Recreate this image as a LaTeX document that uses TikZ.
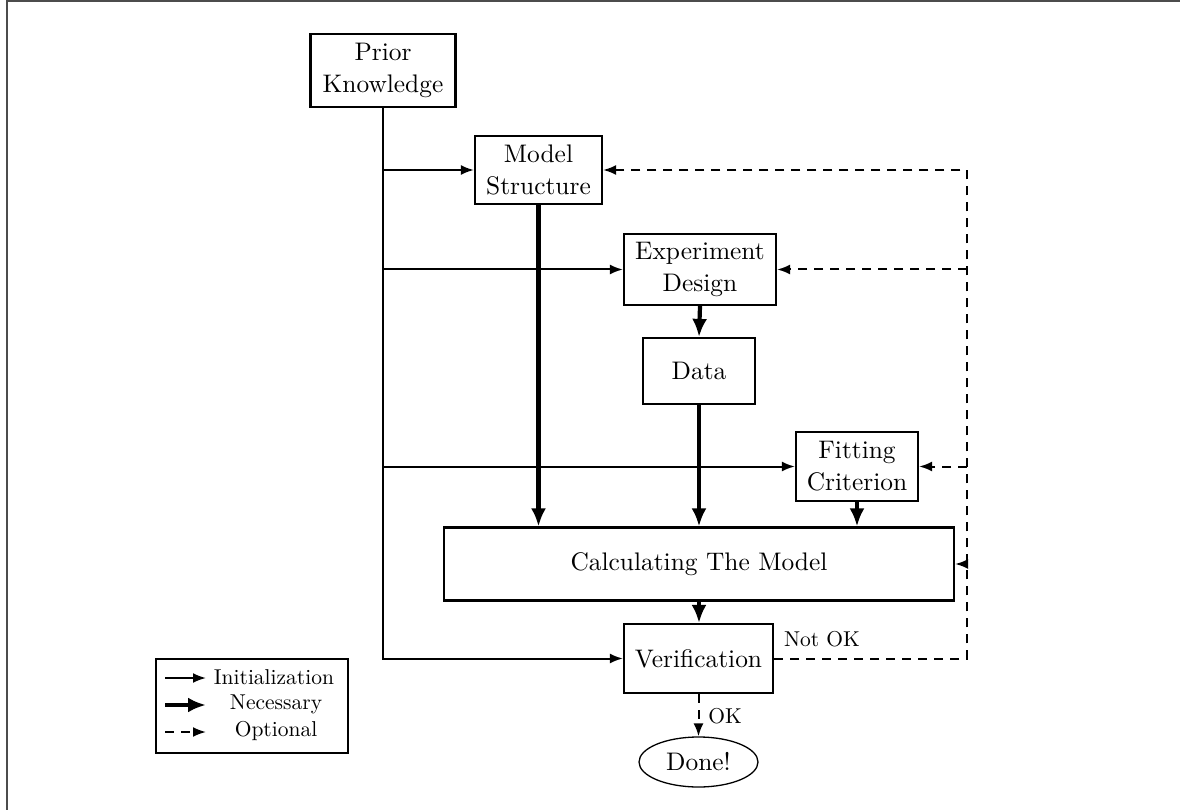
\documentclass[tikz,border=0pt]{standalone}
\usepackage{fontspec}
\setmainfont{lmroman10-regular.otf}
\usetikzlibrary{arrows.meta,shapes.geometric}
\begin{document}
\begin{tikzpicture}[x=1pt,y=-1pt,
  box/.style={draw,line width=2.2pt,align=center,inner sep=0pt,font=\fontsize{25.4}{32}\selectfont},
  lbl/.style={inner sep=0pt,font=\fontsize{21.5}{26}\selectfont},
  init/.style={line width=2pt,-{Latex[length=13pt,width=10pt]}},
  need/.style={line width=4.2pt,-{Latex[length=18pt,width=15pt]}},
  optl/.style={line width=2pt,dash pattern=on 9pt off 7pt},
  opt/.style={optl,-{Latex[length=13pt,width=10pt]}}]
\useasboundingbox (0,0) rectangle (1180,810);
% outer frame (visible top and left edges)
\draw[line width=2pt,black!70] (6.5,810) -- (6.5,0.8) -- (1180,0.8);
% nodes
\node[box,minimum width=145pt,minimum height=73pt] (pk) at (383,70.5) {Prior\\Knowledge};
\node[box,minimum width=127pt,minimum height=68pt] (ms) at (538.5,170) {Model\\Structure};
\node[box,minimum width=152pt,minimum height=71pt] (ed) at (700,269.5) {Experiment\\Design};
\node[box,minimum width=112pt,minimum height=66pt] (da) at (699,371) {Data};
\node[box,minimum width=122pt,minimum height=69pt] (fc) at (857,466.5) {Fitting\\Criterion};
\node[box,minimum width=510pt,minimum height=73pt] (cm) at (699,564) {Calculating The Model};
\node[box,minimum width=149pt,minimum height=69pt] (ve) at (698.5,658.5) {Verification};
\node[draw,ellipse,line width=1.3pt,inner sep=0pt,minimum width=119pt,minimum height=50pt,
      font=\fontsize{25.4}{31}\selectfont] (dn) at (698.5,762) {Done!};
% initialization connectors
\coordinate (pkb) at (pk.south |- ve.west);
\draw[init] (pk.south) -- (pkb) -- (ve.west);
\draw[init] (pk.south |- ms.west) -- (ms.west);
\draw[init] (pk.south |- ed.west) -- (ed.west);
\draw[init] (pk.south |- fc.west) -- (fc.west);
% necessary connectors
\draw[need] (ms.south) -- (ms.south |- cm.north);
\draw[need] (ed.south) -- (da.north);
\draw[need] (da.south) -- (da.south |- cm.north);
\draw[need] (fc.south) -- (fc.south |- cm.north);
\draw[need] (cm.south) -- (cm.south |- ve.north);
% optional connectors
\coordinate (rb) at (967,658.5);
\coordinate (rt) at (967,170);
\draw[opt] (ve.east) -- (rb) -- (rt) -- (ms.east);
\draw[opt] (rt |- ed.east) -- (ed.east);
\draw[opt] (rt |- fc.east) -- (fc.east);
\draw[opt] (rt |- cm.east) -- (cm.east);
\draw[opt] (ve.south) -- (dn.north);
\node[lbl] (nok) at (822,639) {Not OK};
\node[lbl] (ok) at (725,716) {OK};
% legend
\node[draw,line width=1.2pt,minimum width=192pt,minimum height=94pt,inner sep=0pt] (lg) at (252,706) {};
\coordinate (a1) at (165,678); \coordinate (b1) at (206,678);
\coordinate (a2) at (165,705); \coordinate (b2) at (206,705);
\coordinate (a3) at (165,732); \coordinate (b3) at (206,732);
\draw[init] (a1) -- (b1);
\draw[need] (a2) -- (b2);
\draw[opt] (a3) -- (b3);
\node[lbl] (l1) at (274,677) {Initialization};
\node[lbl] (l2) at (276,704) {Necessary};
\node[lbl] (l3) at (276,731) {Optional};
\end{tikzpicture}
\end{document}
